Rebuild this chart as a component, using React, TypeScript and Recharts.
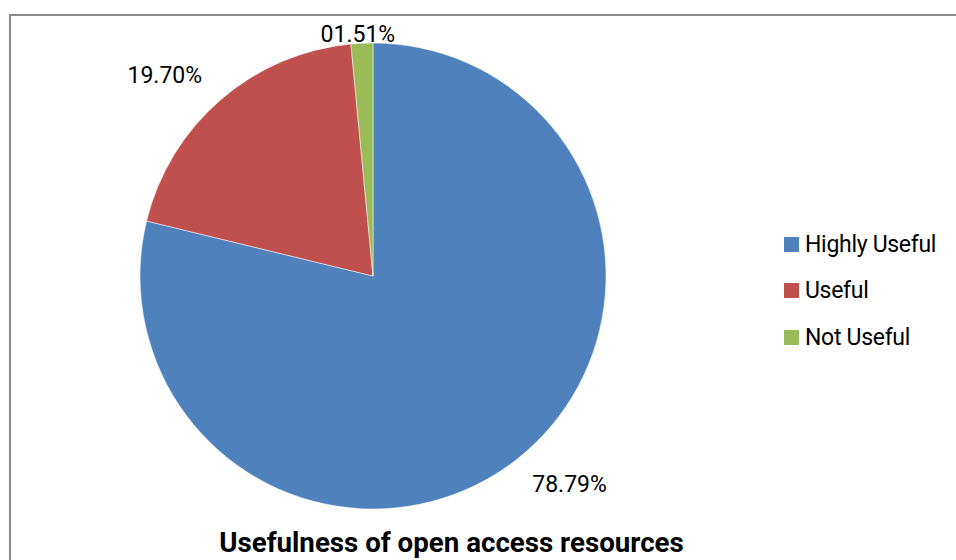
import React from "react";
import { PieChart, Pie, Cell, Legend } from "recharts";

const categories = ["Highly Useful", "Useful", "Not Useful"];
const values = [78.79, 19.7, 1.51];
const colors = ["#4F81BD", "#C0504D", "#9BBB59"];
const title = "Usefulness of open access resources";

const data = categories.map((name, i) => ({ name, value: values[i] }));

const RAD = Math.PI / 180;
const FONT = "Roboto, 'Liberation Sans', sans-serif";

const renderLabel = (props: any) => {
  const { cx, cy, midAngle, outerRadius, value } = props;
  const c = Math.cos(-midAngle * RAD);
  const s = Math.sin(-midAngle * RAD);
  const x = cx + c * (outerRadius + 85);
  let y = cy + s * (outerRadius + 32);
  y = Math.max(y, 34);
  const txt = value.toFixed(2).padStart(5, "0") + "%";
  return (
    <text
      x={x}
      y={y}
      textAnchor="middle"
      dominantBaseline="central"
      fill="#000"
      fontFamily={FONT}
      fontSize={23}
    >
      {txt}
    </text>
  );
};

const renderLegend = () => {
  return (
    <div style={{ fontFamily: FONT, fontSize: 23, color: "#000" }}>
      {categories.map((name, i) => (
        <div
          key={name}
          style={{ display: "flex", alignItems: "center", height: 46.5 }}
        >
          <div
            style={{
              width: 15,
              height: 15,
              background: colors[i],
              marginRight: 6,
            }}
          />
          <span style={{ letterSpacing: -0.3 }}>{name}</span>
        </div>
      ))}
    </div>
  );
};

export default function App() {
  return (
    <div
      style={{
        position: "absolute",
        left: 0,
        top: 0,
        width: 956,
        height: 560,
        overflow: "hidden",
        background: "#fff",
      }}
    >
      <div
        style={{
          position: "absolute",
          left: 9,
          top: 14,
          width: 1000,
          height: 600,
          border: "2px solid #8a8a8a",
          boxSizing: "border-box",
        }}
      />
      <div style={{ position: "absolute", left: 0, top: 0 }}>
        <PieChart
          width={956}
          height={560}
          margin={{ top: 0, right: 0, bottom: 0, left: 0 }}
        >
          <Pie
            data={data}
            dataKey="value"
            nameKey="name"
            cx={373}
            cy={276}
            outerRadius={233}
            startAngle={90}
            endAngle={-270}
            stroke="#fff"
            strokeWidth={0.5}
            label={renderLabel}
            labelLine={false}
            isAnimationActive={false}
          >
            {data.map((d, i) => (
              <Cell key={d.name} fill={colors[i]} />
            ))}
          </Pie>
          <Legend
            layout="vertical"
            content={renderLegend}
            wrapperStyle={{ position: "absolute", left: 784, top: 221, width: 170 }}
          />
        </PieChart>
      </div>
      <div
        style={{
          position: "absolute",
          left: 0,
          width: 903,
          top: 526,
          textAlign: "center",
          fontFamily: FONT,
          fontWeight: 700,
          fontSize: 27.7,
          color: "#000",
          whiteSpace: "nowrap",
        }}
      >
        {title}
      </div>
    </div>
  );
}
